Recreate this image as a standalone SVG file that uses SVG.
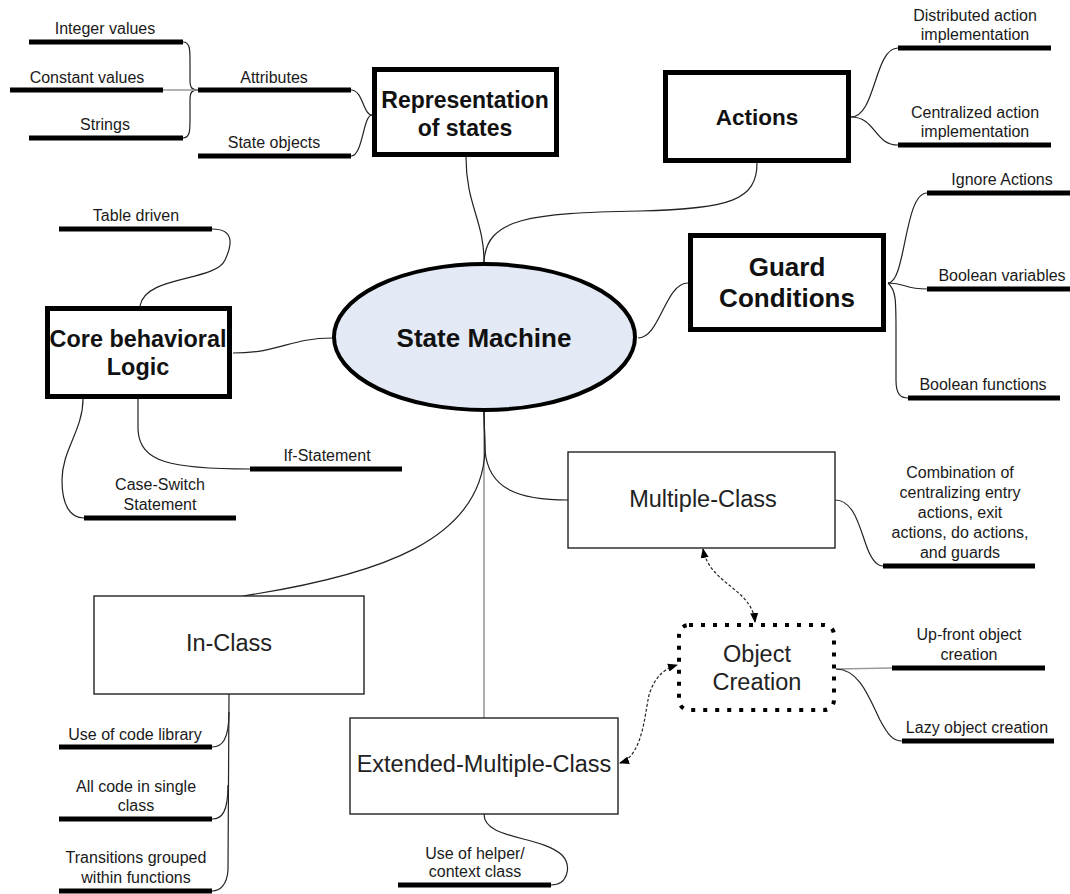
<svg xmlns="http://www.w3.org/2000/svg" width="1070" height="894" viewBox="0 0 1070 894">
<defs>
<style>
.lbl{font-family:"Liberation Sans",Arial,sans-serif;font-size:16px;fill:#1a1a1a;text-anchor:middle}
.bold{font-family:"Liberation Sans",Arial,sans-serif;font-weight:bold;fill:#111;text-anchor:middle}
.reg{font-family:"Liberation Sans",Arial,sans-serif;font-size:23.5px;fill:#222;text-anchor:middle}
.bar{stroke:#000;stroke-width:5;fill:none}
.c{stroke:#222;stroke-width:1.2;fill:none}
.g{stroke:#9a9a9a;stroke-width:1.6;fill:none}
.thick{fill:#fff;stroke:#000;stroke-width:5}
.thin{fill:#fff;stroke:#222;stroke-width:1.4}
.dash{stroke:#222;stroke-width:1.2;fill:none;stroke-dasharray:3 2}
</style>
<marker id="ah" viewBox="0 0 10 10" refX="9" refY="5" markerWidth="10" markerHeight="10" markerUnits="userSpaceOnUse" orient="auto-start-reverse">
<path d="M0,1 L10,5 L0,9 z" fill="#000"/>
</marker>
</defs>
<rect width="1070" height="894" fill="#fff"/>

<g id="connectors">
<!-- Representation leaf brace -->
<path class="c" d="M183,42 C190,42 190,50 190,60 L190,80 C190,88 192,90 198,90"/>
<path class="c" d="M183,138 C190,138 190,130 190,120 L190,100 C190,92 192,90 198,90"/>
<path class="g" d="M163,90 L198,90"/>
<path class="c" d="M351,90 C363,90 363,115 372,115"/>
<path class="c" d="M351,156 C363,156 363,115 372,115"/>
<!-- center to main nodes -->
<path class="c" d="M466,157 C466,205 484,220 484,262"/>
<path class="c" d="M484,262 C486,218 530,213 640,211 C730,209 757,200 757,163"/>
<path class="c" d="M638,338 C660,338 665,283 688,283"/>
<path class="c" d="M332,338 C290,338 280,353 233,353"/>
<path class="g" d="M484,412 L484,718"/>
<path class="c" d="M484,412 L485,450 C488,490 520,500 568,500"/>
<path class="c" d="M484,412 L485,450 C482,540 380,575 243,596"/>
<!-- Actions -->
<path class="c" d="M851,117 C876,117 874,48 898,48"/>
<path class="c" d="M851,117 C876,117 874,145 898,145"/>
<!-- Guard -->
<path class="c" d="M888,283 C906,283 904,193 927,193"/>
<path class="c" d="M888,283 C906,283 904,289 927,289"/>
<path class="c" d="M888,283 C896,290 896,300 896,330 L896,380 C896,395 901,398 908,398"/>
<!-- Core -->
<path class="c" d="M212,229 C235,229 232,245 225,260 C215,282 145,275 140,306"/>
<path class="c" d="M138,399 L138,430 C140,462 170,469 250,469"/>
<path class="c" d="M83,399 C83,430 62,450 62,480 C62,505 70,518 84,518"/>
<!-- In-Class -->
<path class="c" d="M229,694 L228,870 C227,885 220,891 212,891"/>
<path class="c" d="M229,712 C229,740 222,747 212,747"/>
<path class="c" d="M228,785 C228,812 222,819 212,819"/>
<!-- Extended -->
<path class="c" d="M484,814 C484,840 540,835 562,855 C572,866 568,885 551,885"/>
<path class="dash" marker-start="url(#ah)" marker-end="url(#ah)" d="M620,763 C645,755 645,705 650,692 C656,676 664,669 677,665"/>
<!-- Multiple -->
<path class="c" d="M835,500 C855,500 860,530 868,550 C873,562 878,566 883,566"/>
<path class="dash" marker-start="url(#ah)" marker-end="url(#ah)" d="M703,549 C710,585 752,588 755,622"/>
<!-- Object creation -->
<path class="g" d="M836,669 L892,668"/>
<path class="c" d="M836,669 C860,669 870,700 880,720 C888,735 893,741 902,741"/>
</g>

<g id="state-machine">
<ellipse cx="484.5" cy="337" rx="150.5" ry="73" fill="#e4eaf5" stroke="#000" stroke-width="4"/>
<text class="bold" x="484" y="347" font-size="26">State Machine</text>
</g>

<g id="representation">
<rect class="thick" x="374.5" y="69.5" width="182" height="85"/>
<text class="bold" x="465" y="108" font-size="23">Representation</text>
<text class="bold" x="465" y="136" font-size="23">of states</text>
</g>
<g id="attributes">
<line class="bar" x1="198" y1="90" x2="351" y2="90"/>
<text class="lbl" x="274" y="83">Attributes</text>
</g>
<g id="state-objects">
<line class="bar" x1="198" y1="156" x2="351" y2="156"/>
<text class="lbl" x="274" y="148">State objects</text>
</g>
<g id="integer-values">
<line class="bar" x1="29" y1="42" x2="183" y2="42"/>
<text class="lbl" x="105" y="34">Integer values</text>
</g>
<g id="constant-values">
<line class="bar" x1="10" y1="90" x2="163" y2="90"/>
<text class="lbl" x="87" y="83">Constant values</text>
</g>
<g id="strings">
<line class="bar" x1="29" y1="138" x2="183" y2="138"/>
<text class="lbl" x="105" y="130">Strings</text>
</g>

<g id="actions">
<rect class="thick" x="665.5" y="72.5" width="183" height="88"/>
<text class="bold" x="757" y="125" font-size="22.5">Actions</text>
</g>
<g id="distributed">
<line class="bar" x1="898" y1="48" x2="1051" y2="48"/>
<text class="lbl" x="975" y="21">Distributed action</text>
<text class="lbl" x="975" y="40">implementation</text>
</g>
<g id="centralized">
<line class="bar" x1="898" y1="145" x2="1051" y2="145"/>
<text class="lbl" x="975" y="118">Centralized action</text>
<text class="lbl" x="975" y="137">implementation</text>
</g>

<g id="guard">
<rect class="thick" x="690.5" y="235.5" width="193" height="94"/>
<text class="bold" x="787" y="276" font-size="26">Guard</text>
<text class="bold" x="787" y="307" font-size="26">Conditions</text>
</g>
<g id="ignore-actions">
<line class="bar" x1="927" y1="193" x2="1070" y2="193"/>
<text class="lbl" x="1002" y="185">Ignore Actions</text>
</g>
<g id="boolean-variables">
<line class="bar" x1="927" y1="289" x2="1070" y2="289"/>
<text class="lbl" x="1002" y="281">Boolean variables</text>
</g>
<g id="boolean-functions">
<line class="bar" x1="908" y1="398" x2="1060" y2="398"/>
<text class="lbl" x="983" y="390">Boolean functions</text>
</g>

<g id="core">
<rect class="thick" x="47.5" y="308.5" width="182" height="88"/>
<text class="bold" x="138" y="347" font-size="23.4">Core behavioral</text>
<text class="bold" x="138" y="375" font-size="23.4">Logic</text>
</g>
<g id="table-driven">
<line class="bar" x1="59" y1="229" x2="212" y2="229"/>
<text class="lbl" x="136" y="221">Table driven</text>
</g>
<g id="if-statement">
<line class="bar" x1="250" y1="469" x2="402" y2="469"/>
<text class="lbl" x="327" y="461">If-Statement</text>
</g>
<g id="case-switch">
<line class="bar" x1="84" y1="518" x2="236" y2="518"/>
<text class="lbl" x="160" y="490">Case-Switch</text>
<text class="lbl" x="160" y="510">Statement</text>
</g>

<g id="in-class">
<rect class="thin" x="94" y="596" width="270" height="98"/>
<text class="reg" x="229" y="651">In-Class</text>
</g>
<g id="code-library">
<line class="bar" x1="59" y1="747" x2="212" y2="747"/>
<text class="lbl" x="135" y="740">Use of code library</text>
</g>
<g id="single-class">
<line class="bar" x1="59" y1="819" x2="212" y2="819"/>
<text class="lbl" x="136" y="792">All code in single</text>
<text class="lbl" x="136" y="811">class</text>
</g>
<g id="transitions">
<line class="bar" x1="59" y1="891" x2="212" y2="891"/>
<text class="lbl" x="136" y="863">Transitions grouped</text>
<text class="lbl" x="136" y="883">within functions</text>
</g>

<g id="extended">
<rect class="thin" x="350" y="718" width="268" height="96"/>
<text class="reg" x="484" y="772">Extended-Multiple-Class</text>
</g>
<g id="helper">
<line class="bar" x1="398" y1="885" x2="551" y2="885"/>
<text class="lbl" x="475" y="859">Use of helper/</text>
<text class="lbl" x="475" y="877">context class</text>
</g>

<g id="multiple">
<rect class="thin" x="568" y="452" width="267" height="96"/>
<text class="reg" x="703" y="507">Multiple-Class</text>
</g>
<g id="combination">
<line class="bar" x1="883" y1="566" x2="1035" y2="566"/>
<text class="lbl" x="960" y="478">Combination of</text>
<text class="lbl" x="960" y="498">centralizing entry</text>
<text class="lbl" x="960" y="518">actions, exit</text>
<text class="lbl" x="960" y="538">actions, do actions,</text>
<text class="lbl" x="960" y="558">and guards</text>
</g>

<g id="object-creation">
<rect x="679" y="625" width="155" height="85" rx="10" fill="#fff" stroke="#000" stroke-width="4" stroke-dasharray="4 8"/>
<text class="reg" x="757" y="662" font-size="23">Object</text>
<text class="reg" x="757" y="690" font-size="23">Creation</text>
</g>
<g id="up-front">
<line class="bar" x1="892" y1="668" x2="1045" y2="668"/>
<text class="lbl" x="969" y="640">Up-front object</text>
<text class="lbl" x="969" y="660">creation</text>
</g>
<g id="lazy">
<line class="bar" x1="902" y1="741" x2="1054" y2="741"/>
<text class="lbl" x="977" y="733">Lazy object creation</text>
</g>
</svg>
